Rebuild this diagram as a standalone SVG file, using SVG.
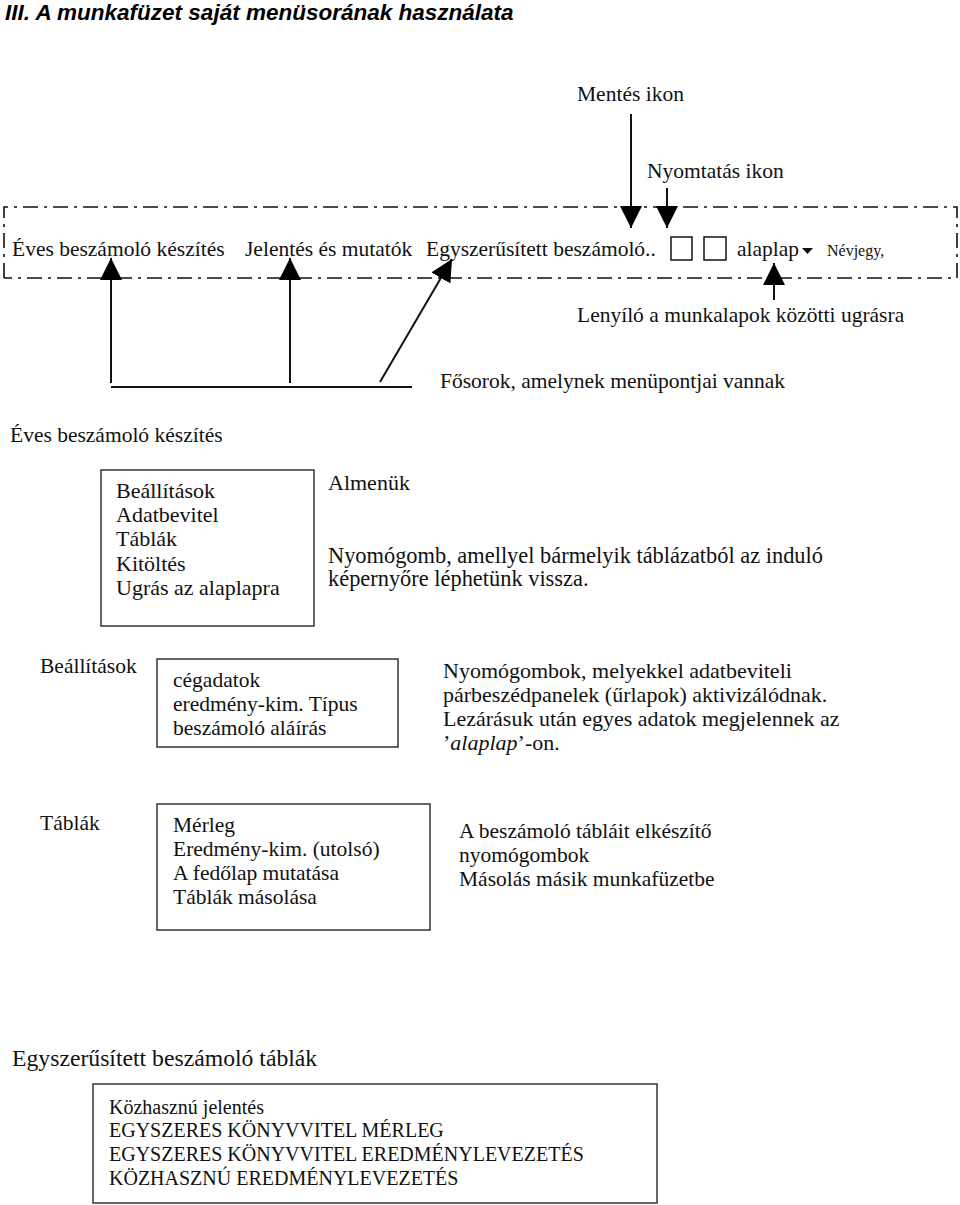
<svg xmlns="http://www.w3.org/2000/svg" width="960" height="1205" viewBox="0 0 960 1205">
<style>
.t{font-family:"Liberation Serif","Times New Roman",serif;font-size:21.5px;fill:#111}
.a{font-family:"Liberation Serif","Times New Roman",serif;font-size:22px;fill:#111}
.box{fill:none;stroke:#333;stroke-width:1.5}
.ln{stroke:#111;stroke-width:2;fill:none}
.dd{fill:none;stroke:#111;stroke-width:1.6;stroke-dasharray:15 6 3 6}
</style>
<defs>
<marker id="ah" markerUnits="userSpaceOnUse" markerWidth="22" markerHeight="22" refX="22" refY="11" orient="auto">
<path d="M0,0 L22,11 L0,22 z" fill="#000"/>
</marker>
</defs>
<text x="5" y="20" style="font-family:'Liberation Sans',Arial,sans-serif;font-size:22.5px;font-weight:bold;font-style:italic;fill:#000">III. A munkafüzet saját menüsorának használata</text>

<g id="menubar">
<path class="dd" d="M4,278 L4,207 L957,207 L957,278 L4,278"/>
<text class="t" x="12" y="256">Éves beszámoló készítés</text>
<text class="t" x="245" y="256">Jelentés és mutatók</text>
<text class="t" x="426" y="256">Egyszerűsített beszámoló..</text>
<rect class="box" x="671" y="237" width="21" height="23" style="stroke:#111"/>
<rect class="box" x="704" y="237" width="22" height="23" style="stroke:#111"/>
<text class="t" x="737" y="256">alaplap</text>
<path d="M802,248 L813,248 L807.5,254 z" fill="#111"/>
<text class="t" x="827" y="256" style="font-size:16px">Névjegy,</text>
</g>

<g id="labels-top">
<text class="t" x="577" y="101">Mentés ikon</text>
<text class="t" x="647" y="178">Nyomtatás ikon</text>
<text class="t" x="577" y="322">Lenyíló a munkalapok közötti ugrásra</text>
<text class="t" x="440" y="388">Fősorok, amelynek menüpontjai vannak</text>
</g>

<g id="connectors">
<line class="ln" x1="631" y1="114" x2="631" y2="228" marker-end="url(#ah)"/>
<line class="ln" x1="667" y1="188" x2="667" y2="228" marker-end="url(#ah)"/>
<line class="ln" x1="774" y1="300" x2="774" y2="263" marker-end="url(#ah)"/>
<line class="ln" x1="111" y1="383" x2="111" y2="258" marker-end="url(#ah)"/>
<line class="ln" x1="290" y1="383" x2="290" y2="258" marker-end="url(#ah)"/>
<line class="ln" x1="380" y1="382" x2="452" y2="259" marker-end="url(#ah)"/>
<line class="ln" x1="111" y1="387" x2="412" y2="387"/>
</g>

<g id="eves">
<text class="t" x="10" y="442">Éves beszámoló készítés</text>
<rect class="box" x="101" y="470" width="213" height="156"/>
<text class="a" x="116" y="498">Beállítások</text>
<text class="a" x="116" y="522">Adatbevitel</text>
<text class="a" x="116" y="546">Táblák</text>
<text class="a" x="116" y="571">Kitöltés</text>
<text class="a" x="116" y="595">Ugrás az alaplapra</text>
<text class="a" x="328" y="490">Almenük</text>
<text class="a" x="328" y="563" style="font-size:22.4px">Nyomógomb, amellyel bármelyik táblázatból az induló</text>
<text class="a" x="328" y="586" style="font-size:22.4px">képernyőre léphetünk vissza.</text>
</g>

<g id="beallitasok">
<text class="t" x="40" y="673">Beállítások</text>
<rect class="box" x="157" y="659" width="241" height="88"/>
<text class="t" x="173" y="687">cégadatok</text>
<text class="t" x="173" y="711">eredmény-kim. Típus</text>
<text class="t" x="173" y="735">beszámoló aláírás</text>
<text class="a" x="443" y="678">Nyomógombok, melyekkel adatbeviteli</text>
<text class="a" x="443" y="702">párbeszédpanelek (űrlapok) aktivizálódnak.</text>
<text class="a" x="443" y="726">Lezárásuk után egyes adatok megjelennek az</text>
<text class="a" x="443" y="750">’<tspan font-style="italic">alaplap</tspan>’-on.</text>
</g>

<g id="tablak">
<text class="t" x="40" y="830">Táblák</text>
<rect class="box" x="157" y="804" width="273" height="126"/>
<text class="t" x="173" y="832">Mérleg</text>
<text class="t" x="173" y="856">Eredmény-kim. (utolsó)</text>
<text class="t" x="173" y="880">A fedőlap mutatása</text>
<text class="t" x="173" y="904">Táblák másolása</text>
<text class="t" x="459" y="838">A beszámoló tábláit elkészítő</text>
<text class="t" x="459" y="862">nyomógombok</text>
<text class="t" x="459" y="886">Másolás másik munkafüzetbe</text>
</g>

<g id="egyszerusitett">
<text class="t" x="12" y="1066" style="font-size:23.7px">Egyszerűsített beszámoló táblák</text>
<rect class="box" x="93" y="1084" width="564" height="119"/>
<text class="t" x="109" y="1114" style="font-size:20px">Közhasznú jelentés</text>
<text class="t" x="109" y="1137" style="font-size:20px">EGYSZERES KÖNYVVITEL MÉRLEG</text>
<text class="t" x="109" y="1161" style="font-size:20px">EGYSZERES KÖNYVVITEL EREDMÉNYLEVEZETÉS</text>
<text class="t" x="109" y="1185" style="font-size:20px">KÖZHASZNÚ EREDMÉNYLEVEZETÉS</text>
</g>
</svg>
